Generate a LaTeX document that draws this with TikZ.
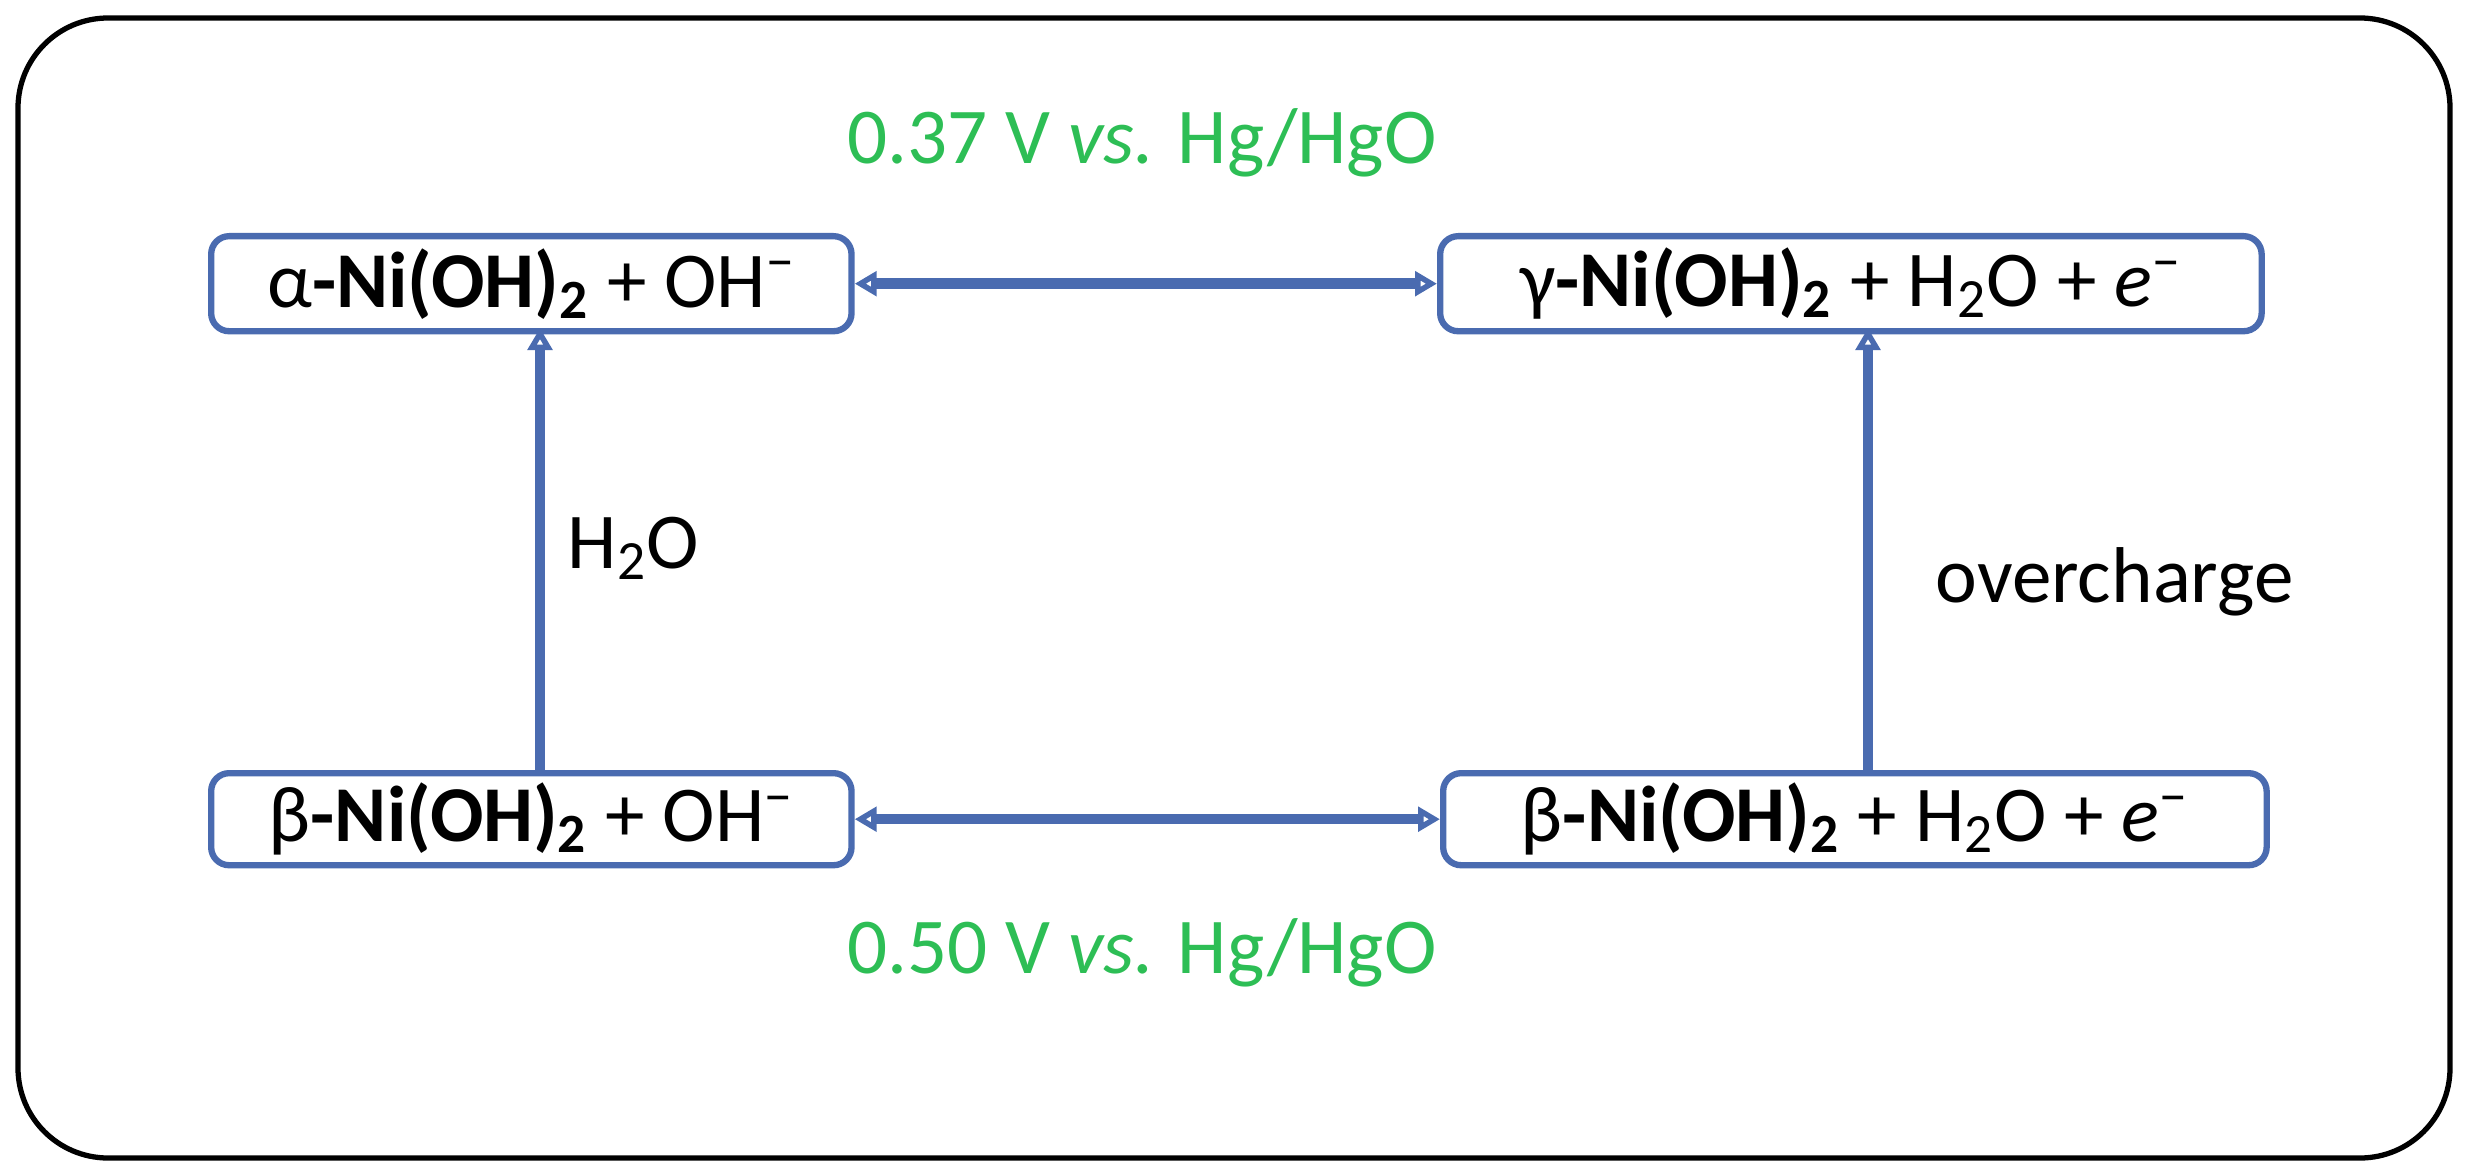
\documentclass[tikz,border=0pt]{standalone}
\usepackage{fontspec}
\setmainfont{Carlito}
\usetikzlibrary{arrows.meta}
\definecolor{bx}{HTML}{4A6BB0}
\definecolor{gr}{HTML}{2DBE55}
\tikzset{
 sp/.style={draw=bx,line width=1.8pt,rounded corners=0.18cm,inner sep=0pt,anchor=north west},
 con/.style={draw=bx,line width=3pt,{Triangle[open,length=0.22cm,width=0.24cm]}-{Triangle[open,length=0.22cm,width=0.24cm]}},
 up/.style={draw=bx,line width=3pt,-{Triangle[open,length=0.22cm,width=0.24cm]}},
 lbl/.style={font=\fontsize{22.5}{26}\selectfont},
}
\newcommand{\nioh}{\textbf{-Ni(OH)\textsubscript{2}}}
\begin{document}
\begin{tikzpicture}[x=0.01cm,y=-0.01cm]
\useasboundingbox (0,0) rectangle (2466,1173);
\draw[line width=1.5pt,rounded corners=0.9cm] (18,18) rectangle (2450,1158);
\node[sp,minimum width=6.4cm,minimum height=0.95cm,lbl] (a) at (208,233) {α\nioh{} + OH\textsuperscript{−}};
\node[sp,minimum width=8.21cm,minimum height=0.95cm,lbl] (g) at (1437,233) {γ\nioh{} + H\textsubscript{2}O + \textit{e}\textsuperscript{−}};
\node[sp,minimum width=6.4cm,minimum height=0.92cm,lbl] (b) at (208,770) {β\nioh{} + OH\textsuperscript{−}};
\node[sp,minimum width=8.23cm,minimum height=0.92cm,lbl] (c) at (1440,770) {β\nioh{} + H\textsubscript{2}O + \textit{e}\textsuperscript{−}};
\draw[con] (a.east) -- (g.west);
\draw[con] (b.east) -- (c.west);
\coordinate (bl) at (540,770); \coordinate (tl) at (540,328);
\coordinate (br) at (1868,770); \coordinate (tr) at (1868,328);
\draw[up] (bl) -- (tl);
\draw[up] (br) -- (tr);
\node[lbl,text=gr] (v1) at (1142,143) {0.37 V \textit{vs.} Hg/HgO};
\node[lbl,text=gr] (v2) at (1142,953) {0.50 V \textit{vs.} Hg/HgO};
\node[lbl,anchor=west,inner sep=0pt] (w) at (567,548) {H\textsubscript{2}O};
\node[lbl,anchor=west,inner sep=0pt] (o) at (1935,582) {overcharge};
\end{tikzpicture}
\end{document}
